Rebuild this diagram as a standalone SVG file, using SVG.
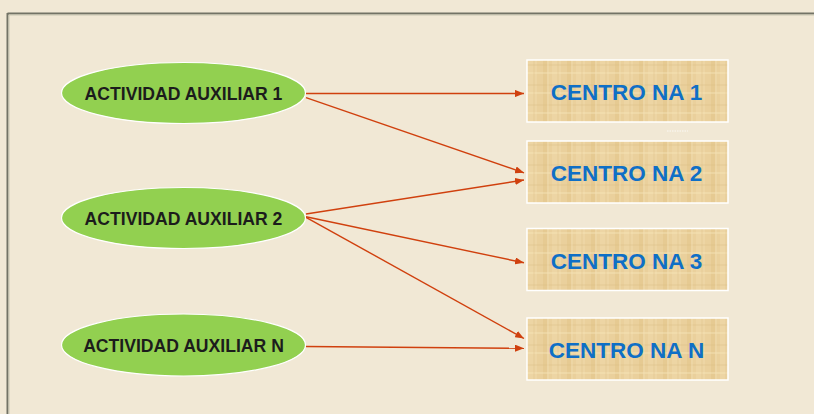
<svg xmlns="http://www.w3.org/2000/svg" width="814" height="414" viewBox="0 0 814 414">
<defs>
<style>
.act ellipse{fill:#92d050;stroke:#ffffff;stroke-width:1.2}
.act text{font-family:"Liberation Sans",Arial,sans-serif;font-weight:bold;font-size:17.6px;fill:#1c1c1c;text-anchor:middle}
.ctr rect{fill:url(#papyrus);stroke:#ffffff;stroke-width:1.5}
.ctr text{font-family:"Liberation Sans",Arial,sans-serif;font-weight:bold;font-size:22.5px;fill:#0f6fc6;text-anchor:middle}
#connectors line{stroke:#d0400e;stroke-width:1.4;marker-end:url(#arr)}
</style>
<marker id="arr" viewBox="0 0 10 8" refX="10" refY="4" markerWidth="9" markerHeight="7.2" orient="auto" markerUnits="userSpaceOnUse">
<path d="M0,0 L10,4 L0,8 Z" fill="#d0400e"/>
</marker>
<pattern id="papyrus" width="24" height="20" patternUnits="userSpaceOnUse">
<rect width="24" height="20" fill="#ead09c"/>
<rect x="0" y="0" width="9" height="20" fill="#eed8a8" opacity="0.7"/>
<rect x="15" y="0" width="4" height="20" fill="#e2c488" opacity="0.5"/>
<line x1="0" y1="5" x2="24" y2="5" stroke="#d9bb80" stroke-width="0.8" opacity="0.6"/>
<line x1="0" y1="13" x2="24" y2="13" stroke="#f3e2b8" stroke-width="1.2" opacity="0.7"/>
<line x1="6" y1="0" x2="6" y2="20" stroke="#d8b97c" stroke-width="0.6" opacity="0.6"/>
<line x1="20" y1="0" x2="20" y2="20" stroke="#f2dfb2" stroke-width="1" opacity="0.7"/>
</pattern>
</defs>
<rect width="814" height="414" fill="#f1e8d5"/>
<g id="frame">
<line x1="7.5" y1="13.5" x2="814" y2="13.5" stroke="#737366" stroke-width="2"/>
<line x1="7.5" y1="13" x2="7.5" y2="414" stroke="#737366" stroke-width="2"/>
<line x1="9" y1="15" x2="814" y2="15" stroke="#c9c6b2" stroke-width="1"/>
<line x1="9" y1="15" x2="9" y2="414" stroke="#c9c6b2" stroke-width="1"/>
</g>
<g id="connectors">
<line x1="306" y1="93.5" x2="524" y2="93.5"/>
<line x1="306" y1="97.7" x2="524" y2="172.8"/>
<line x1="306" y1="214" x2="524" y2="180"/>
<line x1="306" y1="216.7" x2="524" y2="262.8"/>
<line x1="306" y1="217.3" x2="524" y2="338.5"/>
<line x1="306" y1="346.5" x2="524" y2="348.3"/>
</g>
<g id="act1" class="act"><ellipse cx="183.5" cy="93" rx="122" ry="30.5"/><text x="183.5" y="100">ACTIVIDAD AUXILIAR 1</text></g>
<g id="act2" class="act"><ellipse cx="183.5" cy="218" rx="122" ry="30.5"/><text x="183.5" y="225">ACTIVIDAD AUXILIAR 2</text></g>
<g id="actN" class="act"><ellipse cx="183.5" cy="345" rx="122" ry="31"/><text x="183.5" y="352">ACTIVIDAD AUXILIAR N</text></g>
<g id="c1" class="ctr"><rect x="527" y="60" width="201" height="62"/><text x="626.5" y="100">CENTRO NA 1</text></g>
<g id="c2" class="ctr"><rect x="527" y="141" width="201" height="62"/><text x="626.5" y="181">CENTRO NA 2</text></g>
<g id="c3" class="ctr"><rect x="527" y="228.5" width="201" height="62"/><text x="626.5" y="268.5">CENTRO NA 3</text></g>
<g id="cN" class="ctr"><rect x="527" y="318" width="201" height="62"/><text x="626.5" y="358">CENTRO NA N</text></g>
<line x1="667" y1="131" x2="688" y2="131" stroke="#ffffff" stroke-width="1" stroke-dasharray="1.5 1" opacity="0.8"/>
</svg>
